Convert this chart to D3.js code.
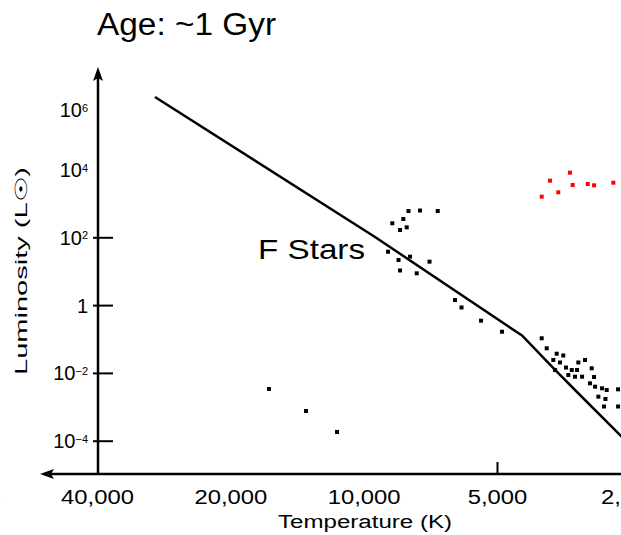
<!DOCTYPE html>
<html><head><meta charset="utf-8">
<script src="https://cdn.jsdelivr.net/npm/d3@7"></script>
<style>html,body{margin:0;padding:0;background:#fff;overflow:hidden}</style>
</head><body>
<svg id="chart" width="621" height="535"></svg>
<script>
// ---------- data ----------
const chartTitle = "Age: ~1 Gyr";
const xTitle = "Temperature (K)";
const yTitle = "Luminosity (L\u2609)";
const regionLabel = "F Stars";

const xTickValues = [80000, 40000, 20000, 10000, 5000, 2500];
const xTickLabels = ["80,000", "40,000", "20,000", "10,000", "5,000", "2,500"];
const xTickMarks = [5000, 2500];

const yTickValues = [1e6, 1e4, 1e2, 1, 1e-2, 1e-4];
const yTickExponents = ["6", "4", "2", "", "\u22122", "\u22124"];
const yTickMarks = [1e2, 1, 1e-2, 1e-4];

// main-sequence curve (temperature K, luminosity Lsun)
const mainSeqTemp = [29590, 9427, 4391, 3697, 3333, 2377];
const mainSeqLum  = [1.38e6, 102, 0.1268, 0.0122, 0.00313, 3.79e-5];

// cluster stars (black)
const starTemp = [7921, 7460, 6804, 8617, 8137, 8278, 7995, 8811, 8342, 8278, 7590, 7101, 7859,
  6220, 6013, 5433, 4872,
  3963, 3861, 3666, 3543, 3604, 3697, 3493, 3390, 3451, 3276, 3164, 3298, 3333, 3213,
  3056, 3019, 3084, 3003, 2896, 2827, 2952, 2845, 2867, 2665, 2665, 3731];
const starLum = [597, 617, 597, 259, 347, 164, 197, 37.6, 21.4, 10.5, 8.67, 19.1, 26.8,
  1.41, 0.85, 0.347, 0.164,
  0.105, 0.0532, 0.0368, 0.0326, 0.0203, 0.0122, 0.0144, 0.0122, 0.00867, 0.0203, 0.0240, 0.0122, 0.00773, 0.00773,
  0.01367, 0.00757, 0.00493, 0.00392, 0.00351, 0.00313, 0.00199, 0.0017, 0.00102, 0.00328, 0.00102, 0.0240];

// red giants (red)
const giantTemp = [3795, 3422, 3373, 3120, 3019, 2731, 3636, 3963];
const giantLum  = [4677, 8050, 3490, 3733, 3420, 4080, 2125, 1577];

// white dwarfs (black)
const dwarfTemp = [16360, 13495, 11487];
const dwarfLum  = [0.00335, 0.000752, 0.000181];

// ---------- drawing ----------
const svg = d3.select("#chart");
const FONT = "'Liberation Sans', Arial, sans-serif";
const INK = "#000";

const x = d3.scaleLog().domain([40000, 5000]).range([97, 497]);
const y = d3.scaleLog().domain([1e-4, 1e2]).range([440.7, 237.3]);

const axisX0 = 98, axisY0 = 474;

function stretch(sel, factor) {
  sel.each(function () {
    const w = this.getComputedTextLength();
    d3.select(this).attr("textLength", w * factor).attr("lengthAdjust", "spacingAndGlyphs");
  });
}

// x axis (labels + tick marks via d3.axisBottom)
const gx = svg.append("g").attr("transform", `translate(0,${axisY0})`)
  .call(d3.axisBottom(x).tickValues(xTickValues)
    .tickFormat((d, i) => xTickLabels[i]).tickSizeInner(-12).tickSizeOuter(0).tickPadding(18));
gx.select(".domain").remove();
gx.selectAll(".tick line").attr("stroke", INK).attr("stroke-width", 2)
  .attr("y2", d => xTickMarks.includes(d) ? -12 : 0);
gx.selectAll(".tick text").attr("fill", INK).style("font-family", FONT).style("font-size", "20px")
  .attr("y", 30).attr("dy", 0).call(stretch, 1.19);

// y axis
const gy = svg.append("g").attr("transform", `translate(${axisX0},0)`)
  .call(d3.axisLeft(y).tickValues(yTickValues).tickFormat(() => "").tickSizeOuter(0));
gy.select(".domain").remove();
gy.selectAll(".tick line").attr("stroke", INK).attr("stroke-width", 2)
  .attr("x1", d => yTickMarks.includes(d) ? -5 : 0)
  .attr("x2", d => yTickMarks.includes(d) ? 15 : 0);
gy.selectAll(".tick text").each(function (d, i) {
  const t = d3.select(this).text(null).attr("x", -10).attr("dy", i === 0 ? "0.75em" : "0.35em")
    .attr("fill", INK).style("font-family", FONT).style("font-size", "20px").attr("text-anchor", "end");
  const e = yTickExponents[i];
  if (e === "") { t.append("tspan").text("1"); }
  else {
    t.append("tspan").text("10");
    t.append("tspan").text(e).attr("dy", "-0.5em").style("font-size", "11px");
  }
});

// axis lines with arrowheads
svg.append("line").attr("x1", axisX0).attr("x2", axisX0).attr("y1", 74).attr("y2", axisY0)
  .attr("stroke", INK).attr("stroke-width", 2.5);
svg.append("line").attr("x1", 46).attr("x2", 621).attr("y1", axisY0).attr("y2", axisY0)
  .attr("stroke", INK).attr("stroke-width", 2.5);
svg.append("path").attr("d", `M${axisX0},67 L${axisX0 - 5},81 L${axisX0},78 L${axisX0 + 5},81 Z`).attr("fill", INK);
svg.append("path").attr("d", `M40,${axisY0} L54,${axisY0 - 5} L51,${axisY0} L54,${axisY0 + 5} Z`).attr("fill", INK);

// main-sequence line
const line = d3.line().x(d => x(d[0])).y(d => y(d[1]));
svg.append("path").datum(mainSeqTemp.map((t, i) => [t, mainSeqLum[i]]))
  .attr("d", line).attr("fill", "none").attr("stroke", INK).attr("stroke-width", 2.5);

// stars
const S = 4;
function drawStars(temps, lums, color) {
  svg.append("g").selectAll("rect").data(temps.map((t, i) => [t, lums[i]])).join("rect")
    .attr("x", d => x(d[0]) - S / 2).attr("y", d => y(d[1]) - S / 2)
    .attr("width", S).attr("height", S).attr("fill", color);
}
drawStars(starTemp, starLum, INK);
drawStars(dwarfTemp, dwarfLum, INK);
drawStars(giantTemp, giantLum, "#ff0000");

// texts
svg.append("text").text(chartTitle).attr("x", 97).attr("y", 35)
  .attr("fill", INK).style("font-family", FONT).style("font-size", "31px")
  .attr("textLength", 179).attr("lengthAdjust", "spacingAndGlyphs");

svg.append("text").text(regionLabel).attr("x", 258).attr("y", 259)
  .attr("fill", INK).style("font-family", FONT).style("font-size", "28px")
  .attr("textLength", 107).attr("lengthAdjust", "spacingAndGlyphs");

svg.append("text").text(xTitle).attr("x", 365).attr("y", 528).attr("text-anchor", "middle")
  .attr("fill", INK).style("font-family", FONT).style("font-size", "18px")
  .attr("textLength", 174).attr("lengthAdjust", "spacingAndGlyphs");

svg.append("text").text(yTitle).attr("transform", "translate(27,271) rotate(-90)")
  .attr("text-anchor", "middle").attr("fill", INK).style("font-family", FONT).style("font-size", "17px")
  .attr("textLength", 208).attr("lengthAdjust", "spacingAndGlyphs");
</script>
</body></html>
